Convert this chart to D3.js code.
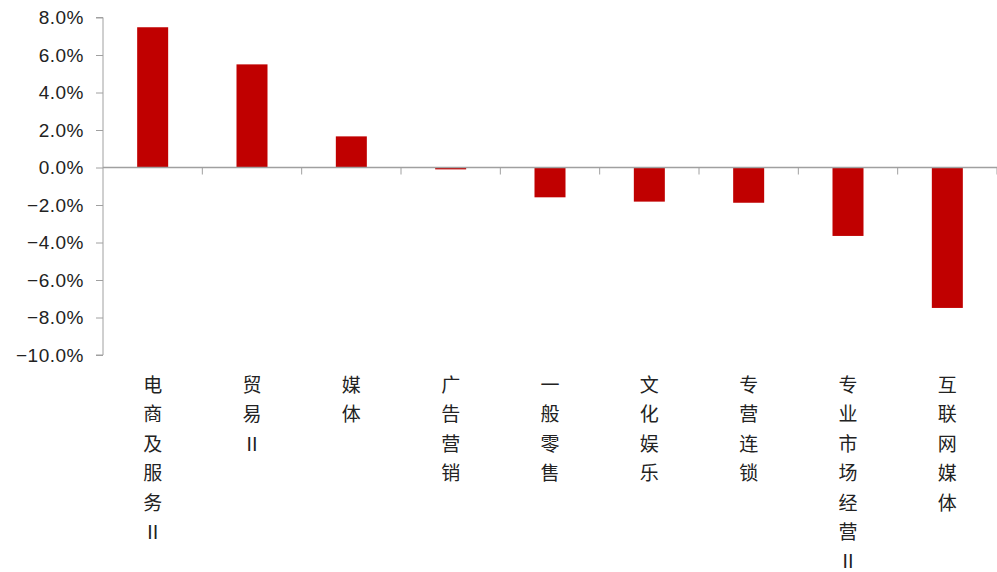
<!DOCTYPE html>
<html><head><meta charset="utf-8">
<script src="https://cdn.jsdelivr.net/npm/d3@7/dist/d3.min.js"></script>
<style>body{margin:0;background:#fff}</style>
</head><body><svg id="c" width="997" height="572"></svg>
<script>
const categories = ["电商及服务Ⅱ","贸易Ⅱ","媒体","广告营销","一般零售","文化娱乐","专营连锁","专业市场经营Ⅱ","互联网媒体"];
const values = [7.48, 5.50, 1.66, -0.10, -1.59, -1.82, -1.88, -3.65, -7.49];
const yTicks = [8, 6, 4, 2, 0, -2, -4, -6, -8, -10];

const svg = d3.select("#c");
const xb = d3.scaleBand().domain(categories).range([103, 997]);
const y = d3.scaleLinear().domain([-10, 8]).range([355, 17.5]);

// bars
svg.selectAll("rect.bar").data(values).enter().append("rect")
  .attr("x", (d,i) => xb(categories[i]) + xb.bandwidth()/2 - 15.5)
  .attr("width", 31)
  .attr("y", d => y(Math.max(0, d)))
  .attr("height", d => Math.abs(y(d) - y(0)))
  .attr("fill", "#C00000");

// y axis
const yAxis = d3.axisLeft(y).tickValues(yTicks).tickSize(7).tickPadding(12)
  .tickFormat(d => d3.format(".1f")(d) + "%");
const gy = svg.append("g").attr("transform", "translate(103,0)").call(yAxis);
gy.select(".domain").attr("stroke", "#a0a0a0").attr("d", "M-7," + y(8) + "H0V" + y(-10) + "H-7");
gy.selectAll(".tick line").attr("stroke", "#a0a0a0");
gy.selectAll(".tick text").attr("font-family", "'Liberation Sans', Arial, sans-serif")
  .attr("font-size", 19).attr("fill", "#222").style("letter-spacing", "0.5px");

// x axis at zero
const gx = svg.append("g").attr("transform", "translate(0," + y(0) + ")");
gx.append("line").attr("x1", 103).attr("x2", 997).attr("y1", 0).attr("y2", 0).attr("stroke", "#a0a0a0").attr("stroke-width", 1.3);
const bounds = categories.map(c => xb(c)).concat([997]);
gx.selectAll("line.t").data(bounds.slice(1)).enter().append("line")
  .attr("x1", d => d).attr("x2", d => d).attr("y1", 0).attr("y2", 7).attr("stroke", "#a0a0a0");

// vertical category labels
categories.forEach(c => {
  const chars = Array.from(c);
  const t = svg.append("text").attr("font-family", "'Noto Sans CJK SC', sans-serif")
    .attr("font-size", 19).attr("fill", "#222").attr("text-anchor", "middle");
  chars.forEach((ch, j) => {
    t.append("tspan").attr("x", xb(c) + xb.bandwidth()/2).attr("y", 392 + j * 29.4).text(ch);
  });
});
</script></body></html>
